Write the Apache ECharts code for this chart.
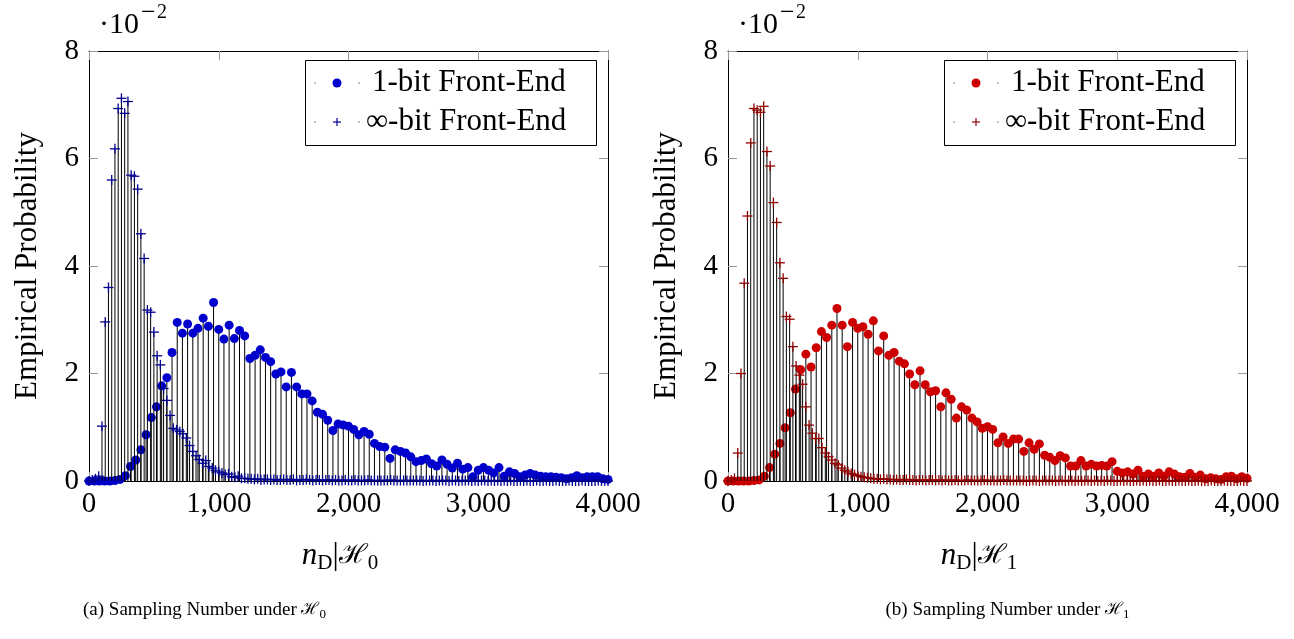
<!DOCTYPE html>
<html><head><meta charset="utf-8">
<script src="https://cdn.jsdelivr.net/npm/echarts@6/dist/echarts.min.js"></script>
<style>html,body{margin:0;padding:0;background:#fff}#c{width:1294px;height:639px}</style>
</head><body><div id="c"></div>
<script>
// sampling grids (x positions of the empirical histogram bins)
const oneBitStep = 40;   // 1-bit front-end bins: 0,40,...,4000
const infBitStep = 25;   // inf-bit front-end bins: 0,25,...,4000

// values in units of 1e-2
const h0OneBit = [
  0, 0, 0, 0, 0, 0.01, 0.03, 0.1, 0.27, 0.39,
  0.58, 0.86, 1.18, 1.38, 1.77, 1.92, 2.39, 2.95, 2.75, 2.92,
  2.75, 2.84, 3.03, 2.88, 3.32, 2.82, 2.64, 2.9, 2.65, 2.8,
  2.7, 2.28, 2.34, 2.44, 2.3, 2.22, 1.99, 2.03, 1.75, 2.02,
  1.75, 1.62, 1.62, 1.49, 1.28, 1.24, 1.13, 0.94, 1.06, 1.04,
  1.02, 0.96, 0.86, 0.92, 0.87, 0.70, 0.64, 0.63, 0.42, 0.58,
  0.55, 0.52, 0.45, 0.36, 0.38, 0.41, 0.32, 0.28, 0.39, 0.31,
  0.24, 0.33, 0.22, 0.25, 0.08, 0.2, 0.25, 0.2, 0.15, 0.25,
  0.09, 0.17, 0.14, 0.08, 0.11, 0.14, 0.11, 0.09, 0.08, 0.08,
  0.07, 0.06, 0.04, 0.06, 0.1, 0.06, 0.08, 0.08, 0.08, 0.04,
  0.03
];
const h0InfBit = [
  0, 0.02, 0.04, 0.09, 1.02, 2.96, 3.6, 5.6, 6.18, 6.93,
  7.12, 6.84, 7.06, 5.69, 5.67, 5.43, 4.6, 4.14, 3.18, 3.14,
  2.77, 2.33, 2.16, 1.72, 1.5, 1.22, 0.98, 0.95, 0.92, 0.88,
  0.8, 0.66, 0.55, 0.47, 0.4, 0.33, 0.38, 0.27, 0.24, 0.2,
  0.17, 0.15, 0.12, 0.13, 0.08, 0.07, 0.09, 0.05, 0.05, 0.04,
  0.04, 0.03, 0.04, 0.02, 0.03, 0.03, 0.02, 0.03, 0.02, 0.02,
  0.03, 0.02, 0.02, 0.03, 0.01, 0.02, 0.02, 0.03, 0.02, 0.01,
  0.02, 0.02, 0.01, 0.02, 0.02, 0.01, 0.02, 0.01, 0.01, 0.02,
  0.01, 0.01, 0.02, 0.01, 0.01, 0.01, 0.02, 0.01, 0.01, 0.01,
  0.01, 0.01, 0.01, 0.02, 0.01, 0.01, 0.01, 0.01, 0.01, 0.01,
  0.01, 0.01, 0.01, 0, 0.01, 0.01, 0.01, 0, 0.01, 0.01,
  0.01, 0, 0.01, 0.01, 0, 0.01, 0.01, 0.01, 0, 0.01,
  0, 0.01, 0.01, 0, 0.01, 0, 0.01, 0, 0.01, 0,
  0.01, 0, 0, 0.01, 0, 0.01, 0, 0, 0.01, 0,
  0, 0.01, 0, 0, 0.01, 0, 0, 0, 0.01, 0,
  0, 0, 0.01, 0, 0, 0, 0, 0.01, 0, 0,
  0
];
const h1OneBit = [
  0, 0, 0, 0, 0, 0.01, 0.02, 0.09, 0.25, 0.5,
  0.7, 0.99, 1.27, 1.71, 2.07, 2.36, 2.12, 2.48, 2.78, 2.67,
  2.9, 3.21, 2.9, 2.5, 2.95, 2.84, 2.87, 2.73, 2.98, 2.42,
  2.7, 2.34, 2.39, 2.23, 2.18, 1.99, 1.79, 2.05, 1.79, 1.66,
  1.68, 1.38, 1.64, 1.52, 1.17, 1.38, 1.32, 1.17, 1.1, 0.98,
  1.01, 0.96, 0.71, 0.82, 0.7, 0.78, 0.78, 0.55, 0.71, 0.59,
  0.69, 0.48, 0.44, 0.38, 0.47, 0.43, 0.28, 0.28, 0.38, 0.28,
  0.31, 0.28, 0.29, 0.28, 0.36, 0.18, 0.15, 0.17, 0.13, 0.2,
  0.09, 0.13, 0.09, 0.15, 0.09, 0.17, 0.13, 0.08, 0.07, 0.14,
  0.07, 0.11, 0.04, 0.06, 0.04, 0.03, 0.08, 0.09, 0.04, 0.08,
  0.05
];
const h1InfBit = [
  0, 0.02, 0.05, 0.52, 2.0, 3.68, 4.93, 6.29, 6.93, 6.9,
  6.86, 6.97, 6.13, 5.86, 5.18, 4.81, 4.06, 3.77, 3.06, 3.01,
  2.5, 2.14, 1.97, 1.8, 1.38, 1.04, 0.89, 0.79, 0.79, 0.62,
  0.52, 0.45, 0.39, 0.33, 0.3, 0.24, 0.2, 0.17, 0.14, 0.12,
  0.1, 0.08, 0.07, 0.06, 0.05, 0.04, 0.04, 0.03, 0.04, 0.03,
  0.03, 0.02, 0.03, 0.02, 0.02, 0.03, 0.02, 0.02, 0.01, 0.02,
  0.02, 0.01, 0.02, 0.02, 0.01, 0.02, 0.01, 0.02, 0.01, 0.01,
  0.02, 0.01, 0.01, 0.01, 0.02, 0.01, 0.01, 0.01, 0.01, 0.02,
  0.01, 0.01, 0.01, 0.01, 0.01, 0.02, 0.01, 0.01, 0.01, 0.01,
  0.01, 0.01, 0, 0.01, 0.01, 0.01, 0, 0.01, 0.01, 0.01,
  0.01, 0, 0.01, 0.01, 0, 0.01, 0.01, 0, 0.01, 0,
  0.01, 0.01, 0, 0.01, 0, 0.01, 0, 0.01, 0.01, 0,
  0, 0.01, 0, 0.01, 0, 0, 0.01, 0, 0.01, 0,
  0.01, 0, 0, 0.01, 0, 0, 0.01, 0, 0, 0.01,
  0, 0, 0.01, 0, 0, 0.01, 0, 0, 0, 0.01,
  0, 0, 0, 0.01, 0, 0, 0, 0, 0.01, 0,
  0
];
const xTickValues = [0, 1000, 2000, 3000, 4000];
const yTickValues = [0, 2, 4, 6, 8];
const legendNames = ['1-bit Front-End', '\u221E-bit Front-End'];
const captions = ['(a) Sampling Number under ', '(b) Sampling Number under '];
const hypothesisIdx = ['0', '1'];

[[h0OneBit,101],[h1OneBit,101],[h0InfBit,161],[h1InfBit,161]].forEach(([a,n],k)=>{
  if (a.length !== n) throw new Error('length mismatch ' + k + ': ' + a.length);
});

function toPairs(vals, step) { return vals.map((v, i) => [i * step, v]); }

const SERIF = '"Liberation Serif", "Times New Roman", serif';
const panels = [
  { left: 89, oneBit: h0OneBit, infBit: h0InfBit, dot: '#0000CC', plus: '#000090' },
  { left: 728, oneBit: h1OneBit, infBit: h1InfBit, dot: '#CC0000', plus: '#900000' }
];
const TOP = 51, W = 519, H = 430;

function stemItem(params, api) {
  const x = api.value(0), y = api.value(1);
  const p0 = api.coord([x, 0]), p1 = api.coord([x, y]);
  return { type: 'line', shape: { x1: p0[0], y1: p0[1], x2: p1[0], y2: p1[1] },
           style: { stroke: '#000', lineWidth: 1 } };
}
function plusItemFactory(color) {
  return function (params, api) {
    const c = api.coord([api.value(0), api.value(1)]);
    const r = 5;
    return { type: 'group', children: [
      { type: 'line', shape: { x1: c[0] - r, y1: c[1], x2: c[0] + r, y2: c[1] }, style: { stroke: color, lineWidth: 1.3 } },
      { type: 'line', shape: { x1: c[0], y1: c[1] - r, x2: c[0], y2: c[1] + r }, style: { stroke: color, lineWidth: 1.3 } }
    ]};
  };
}

const grid = [], xAxis = [], yAxis = [], series = [], graphic = [];
panels.forEach((p, i) => {
  grid.push({ left: p.left, top: TOP, width: W, height: H });
  const common = {
    gridIndex: i, type: 'value', min: 0, max: 4000, interval: 1000,
    axisLine: { show: true, onZero: false, lineStyle: { color: '#000', width: 1 } },
    axisTick: { show: true, inside: true, length: 9, lineStyle: { color: '#999', width: 1 } },
    splitLine: { show: false }
  };
  xAxis.push(Object.assign({}, common, { position: 'bottom',
    axisLabel: { margin: 9, color: '#000', fontFamily: SERIF, fontSize: 29,
      formatter: v => xTickValues.includes(v) ? v.toLocaleString('en-US') : '' } }));
  xAxis.push(Object.assign({}, common, { position: 'top', axisLabel: { show: false } }));
  const ycommon = Object.assign({}, common, { min: 0, max: 8, interval: 2 });
  yAxis.push(Object.assign({}, ycommon, { position: 'left',
    axisLabel: { margin: 10, color: '#000', fontFamily: SERIF, fontSize: 29,
      formatter: v => yTickValues.includes(v) ? String(v) : '' } }));
  yAxis.push(Object.assign({}, ycommon, { position: 'right', axisLabel: { show: false } }));

  const xi = 2 * i, yi = 2 * i;
  series.push({ type: 'custom', xAxisIndex: xi, yAxisIndex: yi, renderItem: stemItem,
    data: toPairs(p.oneBit, oneBitStep), encode: { x: 0, y: 1 }, z: 2, silent: true, clip: false });
  series.push({ type: 'scatter', xAxisIndex: xi, yAxisIndex: yi, symbol: 'circle', symbolSize: 9,
    itemStyle: { color: p.dot, opacity: 1 }, data: toPairs(p.oneBit, oneBitStep), z: 3, clip: false, silent: true });
  series.push({ type: 'custom', xAxisIndex: xi, yAxisIndex: yi, renderItem: stemItem,
    data: toPairs(p.infBit, infBitStep), encode: { x: 0, y: 1 }, z: 4, silent: true, clip: false });
  series.push({ type: 'custom', xAxisIndex: xi, yAxisIndex: yi, renderItem: plusItemFactory(p.plus),
    data: toPairs(p.infBit, infBitStep), encode: { x: 0, y: 1 }, z: 5, silent: true, clip: false });

  const dx = p.left - 89;
  // legend box
  graphic.push({ type: 'rect', shape: { x: 305.5 + dx, y: 60.5, width: 291, height: 85 },
    style: { fill: '#fff', stroke: '#000', lineWidth: 1 }, z: 100 });
  [83, 122].forEach((cy, r) => {
    graphic.push({ type: 'circle', shape: { cx: 315 + dx, cy: cy, r: 0.7 }, style: { fill: '#555' }, z: 101 });
    graphic.push({ type: 'circle', shape: { cx: 359 + dx, cy: cy, r: 0.7 }, style: { fill: '#555' }, z: 101 });
    if (r === 0) {
      graphic.push({ type: 'circle', shape: { cx: 337 + dx, cy: cy, r: 4.5 }, style: { fill: p.dot }, z: 101 });
    } else {
      graphic.push({ type: 'line', shape: { x1: 333 + dx, y1: cy, x2: 341 + dx, y2: cy }, style: { stroke: p.plus, lineWidth: 1.2 }, z: 101 });
      graphic.push({ type: 'line', shape: { x1: 337 + dx, y1: cy - 4, x2: 337 + dx, y2: cy + 4 }, style: { stroke: p.plus, lineWidth: 1.2 }, z: 101 });
    }
    graphic.push({ type: 'text', x: (r === 0 ? 372 : 366) + dx, y: cy, z: 101,
      style: { text: legendNames[r], font: '31px ' + SERIF, fill: '#000', align: 'left', verticalAlign: 'middle' } });
  });
  // exponent
  graphic.push({ type: 'text', x: 99 + dx, y: 25, style: { text: '\u00B710', font: '30px ' + SERIF, fill: '#000', align: 'left', verticalAlign: 'middle' } });
  graphic.push({ type: 'text', x: 141 + dx, y: 13, style: { text: '\u2212', font: '26px ' + SERIF, fill: '#000', align: 'left', verticalAlign: 'middle' } });
  graphic.push({ type: 'text', x: 157 + dx, y: 13, style: { text: '2', font: '20px ' + SERIF, fill: '#000', align: 'left', verticalAlign: 'middle' } });
  // y label
  graphic.push({ type: 'text', x: 28 + dx, y: 266, rotation: Math.PI / 2,
    style: { text: 'Empirical Probability', font: '31px ' + SERIF, fill: '#000', align: 'center', verticalAlign: 'middle' } });
  // x label
  graphic.push({ type: 'text', x: 340 + dx, y: 556,
    style: { text: '{i|n}{s|D}{m||}{h|\u210B}{s|' + hypothesisIdx[i] + '}', align: 'center', verticalAlign: 'middle', fill: '#000',
      rich: {
        i: { fontFamily: SERIF, fontStyle: 'italic', fontSize: 31, lineHeight: 36 },
        s: { fontFamily: SERIF, fontSize: 21, lineHeight: 22, verticalAlign: 'bottom' },
        m: { fontFamily: SERIF, fontSize: 31, lineHeight: 36 },
        h: { fontFamily: '"DejaVu Serif", serif', fontSize: 27, lineHeight: 36 }
      } } });
  // caption
  graphic.push({ type: 'text', x: (i === 0 ? 204.5 : 1007.5), y: 610,
    style: { text: '{c|' + captions[i] + '}{h|\u210B}{s|' + hypothesisIdx[i] + '}', align: 'center', verticalAlign: 'middle', fill: '#000',
      rich: {
        c: { fontFamily: SERIF, fontSize: 19, lineHeight: 22 },
        h: { fontFamily: '"DejaVu Serif", serif', fontSize: 17, lineHeight: 22 },
        s: { fontFamily: SERIF, fontSize: 13, lineHeight: 14, verticalAlign: 'bottom' }
      } } });
});

const chart = echarts.init(document.getElementById('c'), null, { renderer: 'canvas' });
chart.setOption({ animation: false, backgroundColor: '#fff', grid, xAxis, yAxis, series, graphic });
</script>
</body></html>
